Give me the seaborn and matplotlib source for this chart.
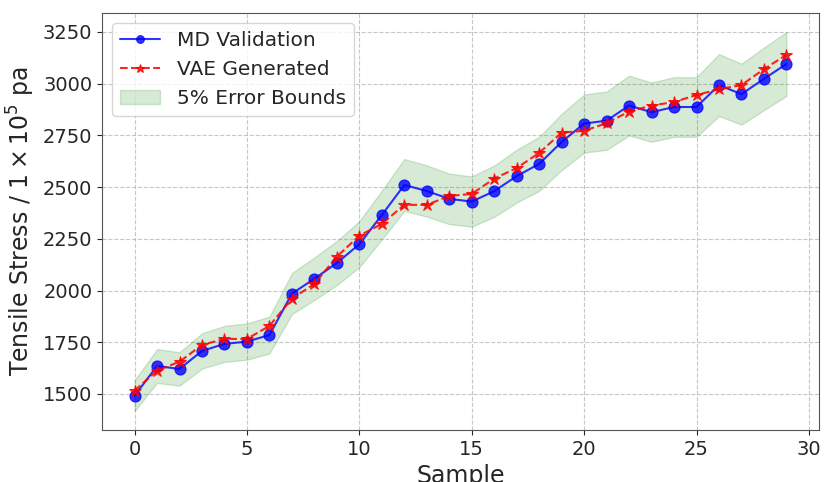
import numpy as np
import pandas as pd
import matplotlib
matplotlib.use("Agg")
import matplotlib.pyplot as plt
import seaborn as sns

samples = list(range(30))
md_validation = [1492, 1635, 1621, 1708, 1742, 1753, 1785, 1985, 2057, 2133,
                 2224, 2365, 2510, 2481, 2443, 2430, 2480, 2553, 2612, 2718,
                 2807, 2821, 2894, 2862, 2887, 2887, 2993, 2949, 3023, 3095]
vae_generated = [1516, 1613, 1656, 1737, 1766, 1766, 1829, 1961, 2032, 2164,
                 2265, 2322, 2414, 2414, 2457, 2467, 2541, 2592, 2665, 2763,
                 2772, 2809, 2865, 2894, 2911, 2945, 2973, 2993, 3070, 3139]
error_pct = 0.05

df = pd.DataFrame({"Sample": samples, "MD": md_validation, "VAE": vae_generated})

sns.set_style("ticks")
plt.rcParams['font.family'] = ['DejaVu Sans']

fig = plt.figure(figsize=(8.24, 4.82), dpi=100)
ax = fig.add_axes([102/824, 1 - 430/482, (819-102)/824, (430-13)/482])

sns.lineplot(data=df, x="Sample", y="MD", ax=ax, color="blue", marker="o",
             markersize=8, linewidth=1.5, alpha=0.8, markeredgecolor="blue",
             label="MD Validation")
sns.lineplot(data=df, x="Sample", y="VAE", ax=ax, color="red", marker="*",
             markersize=9, linewidth=1.5, linestyle="--", alpha=0.85,
             markeredgecolor="red", label="VAE Generated")
md = np.array(md_validation)
ax.fill_between(samples, md * (1 - error_pct), md * (1 + error_pct),
                color="green", alpha=0.16, linewidth=1, label="5% Error Bounds")

ax.grid(True, linestyle="--", color="#b0b0b0", alpha=0.7)
ax.set_xlabel("Sample", fontsize=17)
ax.set_ylabel(r"Tensile Stress / $1 \times 10^5$ pa", fontsize=17)
ax.tick_params(labelsize=14)
ax.set_xticks([0, 5, 10, 15, 20, 25, 30])
ax.set_yticks([1500, 1750, 2000, 2250, 2500, 2750, 3000, 3250])
for s in ax.spines.values():
    s.set_color("#555555")
ax.legend(loc="upper left", fontsize=14.5, frameon=True, markerscale=0.7)

fig.savefig("out.png", dpi=100)
